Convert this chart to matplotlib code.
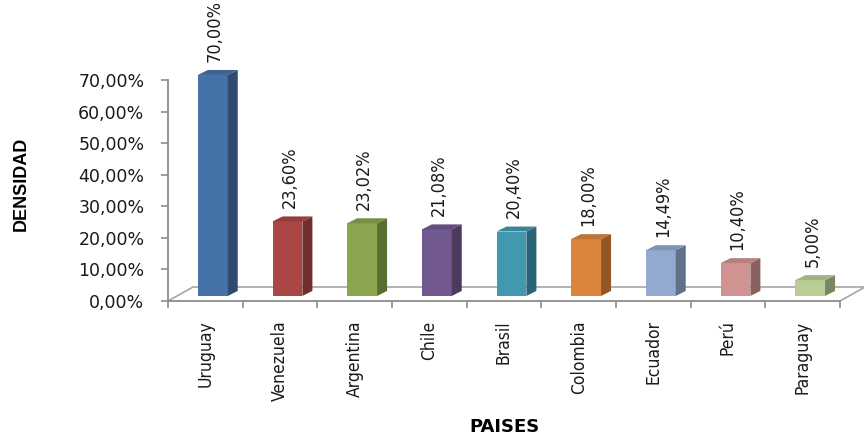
import matplotlib
matplotlib.use("Agg")
import matplotlib.pyplot as plt
from matplotlib.patches import Polygon
from matplotlib import font_manager
import matplotlib.colors as mcolors

paises = ["Uruguay", "Venezuela", "Argentina", "Chile", "Brasil",
          "Colombia", "Ecuador", "Perú", "Paraguay"]
densidad = [70.00, 23.60, 23.02, 21.08, 20.40, 18.00, 14.49, 10.40, 5.00]
etiquetas = ["70,00%", "23,60%", "23,02%", "21,08%", "20,40%",
             "18,00%", "14,49%", "10,40%", "5,00%"]
colores = ["#4672AA", "#AA4643", "#89A54E", "#71588F", "#4198AF",
           "#DB843D", "#93A9CF", "#D19392", "#B9CD96"]
y_ticks = [0, 10, 20, 30, 40, 50, 60, 70]
y_ticklabels = ["0,00%", "10,00%", "20,00%", "30,00%", "40,00%",
                "50,00%", "60,00%", "70,00%"]

# look for a narrow / condensed font file
narrow_file = None
for f in sorted(font_manager.fontManager.ttflist, key=lambda f: f.fname):
    fn = f.fname.lower()
    if ("narrow" in fn or "condensed" in fn) and "bold" not in fn and "oblique" not in fn \
            and "italic" not in fn and "mono" not in fn and "serif" not in fn.replace("sans", ""):
        narrow_file = f.fname
        break

if narrow_file:
    cat_font = font_manager.FontProperties(fname=narrow_file, size=12.5)
    lbl_font = font_manager.FontProperties(fname=narrow_file, size=13)
else:
    cat_font = font_manager.FontProperties(family="DejaVu Sans", size=11)
    lbl_font = font_manager.FontProperties(family="DejaVu Sans", size=11.5)

W, H = 864, 437
fig = plt.figure(figsize=(W / 100, H / 100), dpi=100)
# plot area in pixels: x 168..840, y 80..301 (from top)
ax = fig.add_axes([168 / W, (H - 301) / H, 672 / W, 221 / H])
ax.set_xlim(0, len(paises))
ax.set_ylim(0, 70)

gris = "#8C8C8C"
for s in ["top", "right"]:
    ax.spines[s].set_visible(False)
for s in ["left", "bottom"]:
    ax.spines[s].set_color(gris)
    ax.spines[s].set_linewidth(1.3)

# floor of the 3d box
px_x = 672 / len(paises)
px_y = 221 / 70
floor_dx, floor_dy = 25 / px_x, 14 / px_y
n = len(paises)
ax.plot([0, floor_dx, n + floor_dx, n], [0, floor_dy, floor_dy, 0],
        color="#A6A6A6", lw=1.2, clip_on=False, zorder=1)

# bars as 3d blocks
bar_x0, bar_w = 0.40, 0.40
ddx, ddy = 10 / px_x, 5 / px_y
base = 1.6
for i, (v, c) in enumerate(zip(densidad, colores)):
    rgb = mcolors.to_rgb(c)
    top_c = tuple(k * 0.87 for k in rgb)
    side_c = tuple(k * 0.66 for k in rgb)
    x0 = i + bar_x0
    x1 = x0 + bar_w
    y0, y1 = base, base + v
    ax.add_patch(Polygon([(x0, y0), (x1, y0), (x1, y1), (x0, y1)],
                         closed=True, fc=c, ec="none", clip_on=False, zorder=3))
    ax.add_patch(Polygon([(x1, y0), (x1 + ddx, y0 + ddy), (x1 + ddx, y1 + ddy), (x1, y1)],
                         closed=True, fc=side_c, ec="none", clip_on=False, zorder=3))
    ax.add_patch(Polygon([(x0, y1), (x0 + ddx, y1 + ddy), (x1 + ddx, y1 + ddy), (x1, y1)],
                         closed=True, fc=top_c, ec="none", clip_on=False, zorder=3))
    ax.annotate(etiquetas[i], xy=(x0 + bar_w / 2 + 0.03, y1 + ddy), xytext=(0, 6),
                textcoords="offset points", rotation=90, ha="center", va="bottom",
                fontproperties=lbl_font, color="#1A1A1A", zorder=4,
                annotation_clip=False)

ax.set_yticks(y_ticks)
ax.set_yticklabels(y_ticklabels, fontsize=12.5, family="DejaVu Sans", color="#1A1A1A")
ax.tick_params(axis="y", direction="out", length=5, width=1.2, color=gris, pad=12)

ax.set_xticks(range(n + 1))
ax.set_xticklabels([])
ax.tick_params(axis="x", which="major", direction="out", length=5, width=1.2, color=gris)
ax.set_xticks([i + 0.5 for i in range(n)], minor=True)
ax.set_xticklabels(paises, minor=True, rotation=90, fontproperties=cat_font,
                   color="#1A1A1A")
ax.tick_params(axis="x", which="minor", length=0, pad=14)

fig.text(21 / W, 1 - 184 / H, "DENSIDAD", rotation=90, ha="center", va="center",
         fontsize=13, fontweight="bold", family="Liberation Sans")
fig.text(504 / W, 1 - 427 / H, "PAISES", ha="center", va="center",
         fontsize=13, fontweight="bold", family="DejaVu Sans")

fig.savefig("out.png", dpi=100)
